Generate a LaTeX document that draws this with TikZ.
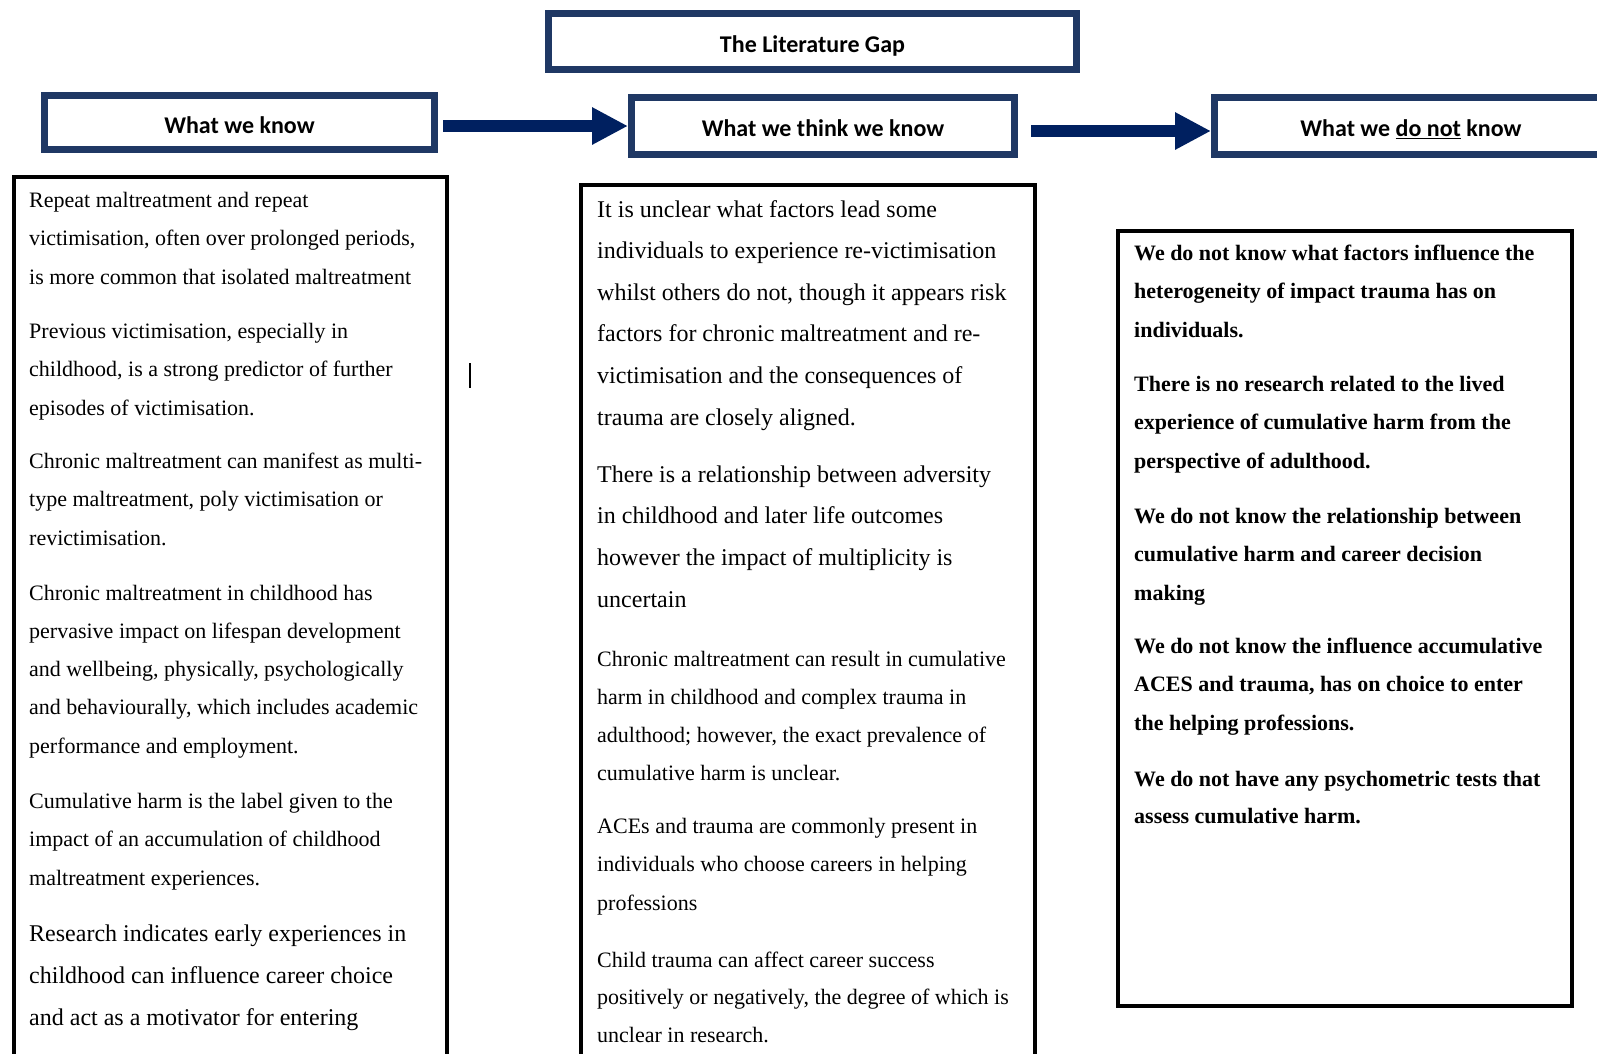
\documentclass[tikz,border=0pt]{standalone}
\usepackage{fontspec}
\setmainfont{Liberation Serif}
\newfontfamily\hfont{Carlito}
\usetikzlibrary{arrows.meta}
\definecolor{boxnavy}{HTML}{1F3864}
\definecolor{arrownavy}{HTML}{002060}
\tikzset{
  headbox/.style={draw=boxnavy, line width=7pt, rectangle, inner sep=0pt,
    text height=21.5pt, text depth=0pt,
    font=\hfont\bfseries\fontsize{24}{28}\selectfont, text=black},
  frame/.style={draw=black, line width=4pt},
  para/.style={anchor=base west, align=left, inner sep=0pt},
  pA/.style={para, font=\fontsize{22}{38.5}\selectfont},
  pB/.style={para, font=\fontsize{24}{41.6}\selectfont},
  pR/.style={para, font=\bfseries\fontsize{22}{38.5}\selectfont},
  bigarrow/.style={draw=arrownavy, line width=12pt,
    -{Triangle[length=36pt, width=35pt, fill=arrownavy]}},
}
\begin{document}
\begin{tikzpicture}[x=1pt, y=-1pt]
\useasboundingbox (0,0) rectangle (1597,1053);
% header boxes
\node[headbox, minimum width=528pt, minimum height=56pt] (title) at (812.5,41.5) {The Literature Gap};
\node[headbox, minimum width=390pt, minimum height=54pt] (wwk) at (239.5,122.5) {What we know};
\node[headbox, minimum width=383pt, minimum height=57pt] (wwtk) at (823,126) {What we think we know};
\node[headbox, minimum width=393pt, minimum height=57pt] (wwdnk) at (1411,126) {What we \underline{do not} know};
% arrows
\draw[bigarrow] ([xshift=5pt]wwk.east |- wwtk.west) -- (wwtk.west);
\draw[bigarrow] ([xshift=13pt,yshift=-5pt]wwtk.east) -- ([yshift=-5pt]wwdnk.west);
% frames
\draw[frame] (14,1070) -- (14,177) -- (447,177) -- (447,1070);
\draw[frame] (581,1070) -- (581,185) -- (1035,185) -- (1035,1070);
\draw[frame] (1118,231) rectangle (1572,1006);
\draw[line width=1.5pt] (470,363) -- (470,388);
% left column (positions are the baselines of each paragraph's last line)
\node[pA] (l1) at (29,284) {Repeat maltreatment and repeat\\victimisation, often over prolonged periods,\\is more common that isolated maltreatment};
\node[pA] (l2) at (29,415) {Previous victimisation, especially in\\childhood, is a strong predictor of further\\episodes of victimisation.};
\node[pA] (l3) at (29,545) {Chronic maltreatment can manifest as multi-\\type maltreatment, poly victimisation or\\revictimisation.};
\node[pA, font=\fontsize{22}{38.2}\selectfont] (l4) at (29,753) {Chronic maltreatment in childhood has\\pervasive impact on lifespan development\\and wellbeing, physically, psychologically\\and behaviourally, which includes academic\\performance and employment.};
\node[pA] (l5) at (29,885) {Cumulative harm is the label given to the\\impact of an accumulation of childhood\\maltreatment experiences.};
\node[pB] (l6) at (29,1025) {Research indicates early experiences in\\childhood can influence career choice\\and act as a motivator for entering};
% middle column
\node[pB] (m1) at (597,425) {It is unclear what factors lead some\\individuals to experience re-victimisation\\whilst others do not, though it appears risk\\factors for chronic maltreatment and re-\\victimisation and the consequences of\\trauma are closely aligned.};
\node[pB] (m2) at (597,607) {There is a relationship between adversity\\in childhood and later life outcomes\\however the impact of multiplicity is\\uncertain};
\node[pA, font=\fontsize{22}{37.7}\selectfont] (m3) at (597,780) {Chronic maltreatment can result in cumulative\\harm in childhood and complex trauma in\\adulthood; however, the exact prevalence of\\cumulative harm is unclear.};
\node[pA] (m4) at (597,910) {ACEs and trauma are commonly present in\\individuals who choose careers in helping\\professions};
\node[pA, font=\fontsize{22}{37.5}\selectfont] (m5) at (597,1042) {Child trauma can affect career success\\positively or negatively, the degree of which is\\unclear in research.};
% right column
\node[pR] (r1) at (1134,337) {We do not know what factors influence the\\heterogeneity of impact trauma has on\\individuals.};
\node[pR] (r2) at (1134,468) {There is no research related to the lived\\experience of cumulative harm from the\\perspective of adulthood.};
\node[pR] (r3) at (1134,600) {We do not know the relationship between\\cumulative harm and career decision\\making};
\node[pR] (r4) at (1134,730) {We do not know the influence accumulative\\ACES and trauma, has on choice to enter\\the helping professions.};
\node[pR, font=\bfseries\fontsize{22}{36.5}\selectfont] (r5) at (1134,823) {We do not have any psychometric tests that\\assess cumulative harm.};
\end{tikzpicture}
\end{document}
